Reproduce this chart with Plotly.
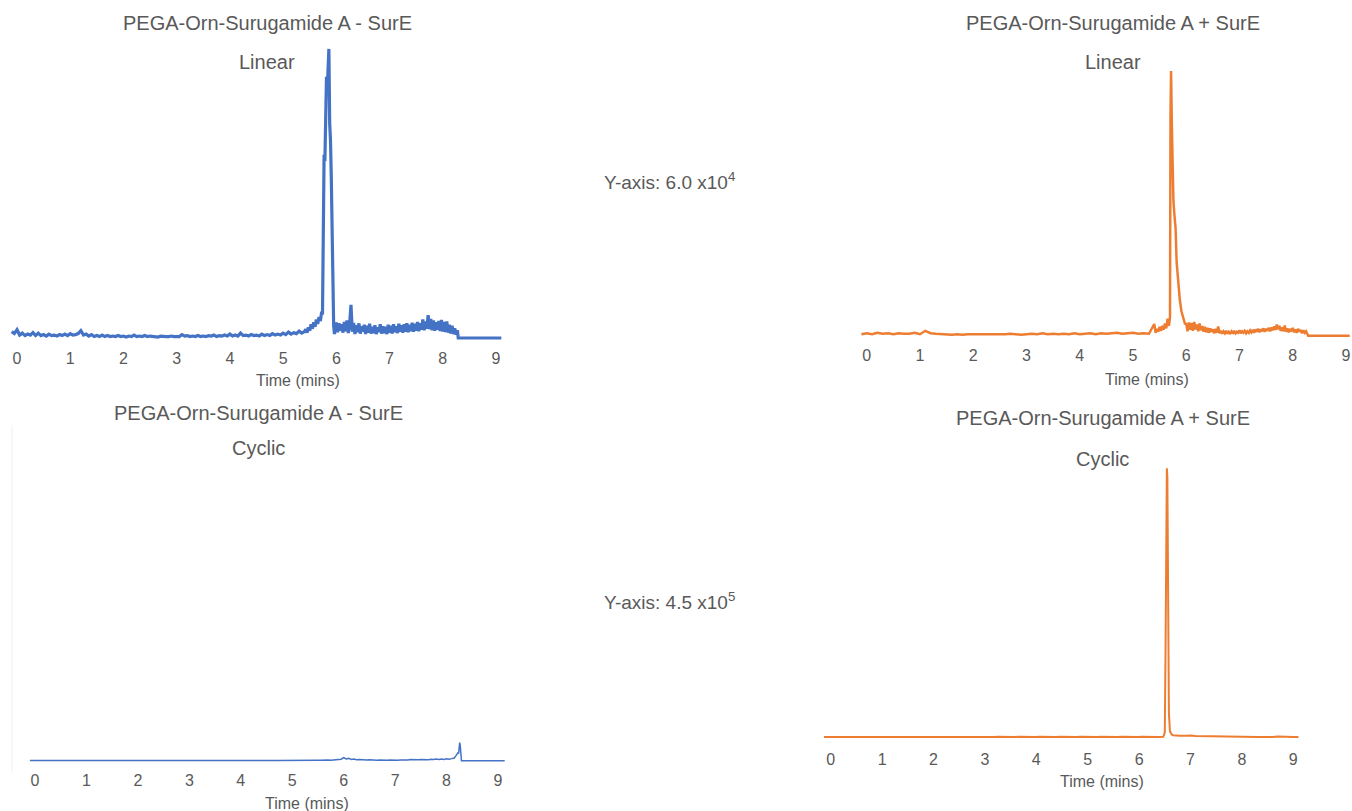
import plotly.graph_objects as go

W, H = 1352, 811
BLUE = "#4472C4"
ORANGE = "#ED7D31"
TEXT = "#595959"
FONT = "Liberation Sans, Arial, Helvetica, sans-serif"

# ---------------- chromatogram data (time in min, intensity in counts) ----------------
# Linear product, no SurE
tl_base_start, tl_base_step = -0.1, 0.05
tl_base = [1300, 900, 1700, 600, 1000, 500, 800, 600, 1100, 500,
           1000, 500, 700, 400, 800, 500, 600, 400, 700, 500,
           800, 500, 900, 600, 700, 900, 1500, 600, 800, 400,
           700, 300, 500, 300, 600, 300, 500, 300, 400, 300,
           500, 300, 400, 200, 400, 300, 600, 300, 400, 300,
           500, 300, 400, 300, 300, 200, 400, 300, 300, 300,
           400, 300, 300, 300, 700, 400, 500, 300, 400, 300,
           500, 300, 400, 300, 500, 400, 600, 300, 500, 400,
           600, 400, 800, 400, 600, 400, 1000, 500, 600, 400,
           700, 500, 600, 400, 800, 500, 700, 500, 900, 600,
           800, 600, 1000, 700, 1200, 800, 1100, 900, 1400, 1000,
           1300]
tl_rise_start, tl_rise_step = 5.425, 0.025
tl_rise = [1800, 1100, 2200, 1500, 2800, 1900, 3200, 2300, 3800, 2900, 4300, 3500, 5400]
tl_peak_time = [5.74, 5.755, 5.77, 5.785, 5.80, 5.815, 5.83, 5.845, 5.86, 5.875,
                5.89, 5.905, 5.92, 5.935, 5.95, 5.965, 5.98]
tl_peak = [4800, 36000, 37500, 36200, 46000, 53500, 51000, 55000, 59200, 44000,
           40500, 33000, 21500, 9500, 2500, 800, 1600]
tl_tail_start, tl_tail_step = 6.0, 0.025
tl_tail = [3200, 1200, 3000, 1500, 2800, 1100, 3300, 1400, 3600, 1000,
           2900, 6800, 1300, 3100, 800, 2600, 1200, 3000, 900, 2400,
           1300, 2700, 800, 2500, 1100, 2900, 900, 2300, 1000, 2600,
           800, 2200, 1200, 2800, 900, 2400, 1000, 2300, 800, 2700,
           1100, 2500, 900, 2800, 1200, 2400, 1000, 2900, 1300, 2600,
           1100, 2800, 1300, 3000, 1200, 2700, 1400, 3100, 1300, 2900,
           1500, 3300, 1400, 3000, 1700, 3800, 1600, 3400, 1900, 4700,
           1800, 3900, 1600, 3600, 1500, 3200, 1700, 3500, 1400, 3700,
           1300, 3300, 1200, 3400, 1100, 2700, 900, 2500, 800, 2000,
           700, 1600]
tl_end_time = [8.29, 9.1]
tl_end = [0, 0]

# Linear product, with SurE
tr_base_start, tr_base_step = -0.1, 0.1
tr_base = [300, 500, 300, 600, 400, 500, 300, 500, 400, 400,
           600, 300, 1000, 500, 400, 300, 300, 200, 300, 200,
           300, 300, 200, 300, 300, 200, 300, 300, 400, 300,
           200, 300, 400, 300, 500, 300, 400, 300, 400, 300,
           500, 300, 400, 500, 300, 500, 400, 500, 600, 400,
           500, 600, 400, 500, 400]
tr_rise_start, tr_rise_step = 5.4, 0.025
tr_rise = [2400, 600, 1400, 800, 1800, 1000, 2000, 1200, 2500, 1500, 3500, 2000]
tr_peak_time = [5.695, 5.705, 5.715, 5.73, 5.745, 5.76, 5.78, 5.80, 5.82, 5.85,
                5.88, 5.91, 5.945, 5.975]
tr_peak = [3800, 45000, 54200, 43000, 32000, 27500, 24500, 22000, 15000, 10500,
           7300, 5000, 3900, 2500]
tr_tail_start, tr_tail_step = 6.0, 0.025
tr_tail = [2400, 900, 2700, 1200, 2600, 1000, 2800, 1300, 2300, 900,
           2500, 1100, 2000, 800, 1800, 700, 1600, 600, 1500, 800,
           1300, 500, 1400, 600, 1900, 500, 1000, 400, 900, 500,
           1000, 400, 800, 500, 900, 400, 1000, 500, 800, 600,
           1100, 500, 900, 600, 1000, 500, 900, 600, 1100, 700,
           1200, 600, 1300, 800, 1400, 700, 1300, 900, 1500, 800,
           1400, 1000, 1600, 900, 1700, 1100, 1900, 1200, 2300, 1300,
           2000, 1000, 1700, 900, 2100, 800, 1500, 700, 1400, 900,
           1600, 700, 1300, 600, 1400, 800, 1200, 500, 1100, 600,
           900, 500]
tr_end_time = [8.29, 9.07]
tr_end = [0, 0]

# Cyclic product, no SurE
bl_base_start, bl_base_step = -0.1, 0.1
bl_base = [400, 600, 300, 500, 300, 400, 500, 300, 400, 300,
           500, 300, 400, 600, 300, 400, 300, 500, 300, 400,
           300, 400, 300, 500, 300, 400, 300, 400, 500, 300,
           400, 300, 500, 300, 400, 300, 500, 300, 400, 300,
           500, 400, 300, 500, 400, 600, 400, 500, 400, 600,
           500, 700, 500, 800, 600, 800]
bl_mid_start, bl_mid_step = 5.5, 0.05
bl_mid = [900, 600, 1100, 800, 1200, 900, 1300, 1000, 1500, 2500,
          5200, 2800, 3800, 2000, 2600, 1600, 2100, 1400, 1800, 1200,
          1500, 1000, 1300, 900, 1200, 800, 1100, 800, 1000, 700,
          1000, 800, 1100, 900, 1200, 1000, 1800, 1300, 2000, 1500,
          2100, 1600, 2200, 1700, 2400, 1800, 2600, 2000, 2800, 2200,
          3200, 2600, 3400, 4500]
bl_peak_time = [8.18, 8.20, 8.22, 8.235, 8.245, 8.255, 8.265, 8.275, 8.29]
bl_peak = [8000, 11000, 13000, 12500, 29500, 30000, 26000, 6000, 0]
bl_end_time = [8.30, 9.13]
bl_end = [0, 0]

# Cyclic product, with SurE
br_base_start, br_base_step = -0.13, 0.1
br_base = [500, 300, 400, 300, 500, 300, 400, 300, 500, 300,
           400, 300, 500, 300, 400, 300, 500, 300, 400, 300,
           500, 300, 400, 300, 500, 400, 900, 400, 800, 400,
           900, 400, 800, 500, 900, 400, 800, 400, 900, 500,
           800, 400, 900, 400, 800, 500, 900, 400, 800, 400,
           900, 500, 800, 400, 900, 400, 800, 500, 900, 400,
           800, 400, 900, 500, 700, 600]
br_peak_time = [6.47, 6.50, 6.515, 6.53, 6.54, 6.55, 6.565, 6.58, 6.60, 6.63, 6.66]
br_peak = [700, 8000, 150000, 400000, 445000, 430000, 250000, 40000, 10000, 5000, 3500]
br_tail_start, br_tail_step = 6.7, 0.1
br_tail = [3000, 2600, 2400, 3000, 2200, 2000, 1900, 1800, 1700, 1600, 1500]
br_end_start, br_end_step = 7.8, 0.1
br_end = [400, 300, 500, 300, 400, 300, 500, 300, 700, 1500, 900, 400, 300, 400]

tick_vals = [0, 1, 2, 3, 4, 5, 6, 7, 8, 9]
tick_text = [str(v) for v in tick_vals]


def sampled(start, step, values):
    """Times of a uniformly sampled segment."""
    return [round(start + i * step, 4) for i in range(len(values))]


def join(*segments):
    t, y = [], []
    for st, sy in segments:
        t += list(st)
        y += list(sy)
    return t, y


traces = {
    "tl": join((sampled(tl_base_start, tl_base_step, tl_base), tl_base),
               (sampled(tl_rise_start, tl_rise_step, tl_rise), tl_rise),
               (tl_peak_time, tl_peak),
               (sampled(tl_tail_start, tl_tail_step, tl_tail), tl_tail),
               (tl_end_time, tl_end)),
    "tr": join((sampled(tr_base_start, tr_base_step, tr_base), tr_base),
               (sampled(tr_rise_start, tr_rise_step, tr_rise), tr_rise),
               (tr_peak_time, tr_peak),
               (sampled(tr_tail_start, tr_tail_step, tr_tail), tr_tail),
               (tr_end_time, tr_end)),
    "bl": join((sampled(bl_base_start, bl_base_step, bl_base), bl_base),
               (sampled(bl_mid_start, bl_mid_step, bl_mid), bl_mid),
               (bl_peak_time, bl_peak),
               (bl_end_time, bl_end)),
    "br": join((sampled(br_base_start, br_base_step, br_base), br_base),
               (br_peak_time, br_peak),
               (sampled(br_tail_start, br_tail_step, br_tail), br_tail),
               (sampled(br_end_start, br_end_step, br_end), br_end)),
}

# ---------------- panel geometry (pixels in the 1352x811 page) ----------------
panels = {
    # key: (x domain px, px of t=0, px of t=9, px of y=0, px of full scale, full scale,
    #       colour, line width, tick label standoff)
    "tl": ((8, 505), 17.0, 496.0, 338.0, 45.0, 6.0e4, BLUE, 3.2, 5),
    "tr": ((856, 1352), 866.7, 1346.0, 335.7, 42.7, 6.0e4, ORANGE, 2.5, 4),
    "bl": ((24, 512), 35.0, 498.0, 760.7, 488.7, 4.5e5, BLUE, 1.5, 4),
    "br": ((818, 1306), 830.7, 1293.3, 737.3, 465.3, 4.5e5, ORANGE, 2.0, 7),
}

fig = go.Figure()
layout_axes = {}
for i, (key, (dom, t0, t9, base, top, full, colour, lw, standoff)) in enumerate(panels.items(), start=1):
    scale = (t9 - t0) / 9.0
    xr = [(dom[0] - t0) / scale, (dom[1] - t0) / scale]
    bottom = base + 4
    per_px = full / (base - top)
    yr = [-(bottom - base) * per_px, full]
    xa = "xaxis" if i == 1 else f"xaxis{i}"
    ya = "yaxis" if i == 1 else f"yaxis{i}"
    layout_axes[xa] = dict(domain=[dom[0] / W, dom[1] / W], range=xr, anchor=f"y{i}" if i > 1 else "y",
                           tickmode="array", tickvals=tick_vals, ticktext=tick_text,
                           showgrid=False, zeroline=False, showline=False, ticks="",
                           ticklabelstandoff=standoff,
                           tickfont=dict(family=FONT, size=16, color=TEXT), fixedrange=True)
    layout_axes[ya] = dict(domain=[1 - bottom / H, 1 - top / H], range=yr, anchor=f"x{i}" if i > 1 else "x",
                           showgrid=False, zeroline=False, showline=False, showticklabels=False,
                           ticks="", fixedrange=True)
    t, y = traces[key]
    fig.add_trace(go.Scatter(x=t, y=y, mode="lines", line=dict(color=colour, width=lw),
                             xaxis=f"x{i}" if i > 1 else "x", yaxis=f"y{i}" if i > 1 else "y",
                             hoverinfo="skip", showlegend=False, cliponaxis=True))


def label(text, px, py, size):
    return dict(text=text, x=px / W, y=1 - py / H, xref="paper", yref="paper",
                xanchor="center", yanchor="middle", showarrow=False,
                font=dict(family=FONT, size=size, color=TEXT))


annotations = [
    label("PEGA-Orn-Surugamide A - SurE", 267.5, 23, 20),
    label("Linear", 267, 62, 20),
    label("Time (mins)", 298, 380, 16),
    label("PEGA-Orn-Surugamide A + SurE", 1113, 23, 20),
    label("Linear", 1113, 62, 20),
    label("Time (mins)", 1147, 379, 16),
    label("PEGA-Orn-Surugamide A - SurE", 258, 413, 20),
    label("Cyclic", 258, 448, 20),
    label("Time (mins)", 307, 803, 16),
    label("PEGA-Orn-Surugamide A + SurE", 1102.5, 418, 20),
    label("Cyclic", 1102, 459, 20),
    label("Time (mins)", 1102, 781, 16),
    label("Y-axis: 6.0 x10<sup>4</sup>", 669, 181, 19),
    label("Y-axis: 4.5 x10<sup>5</sup>", 669, 601, 19),
]

shapes = [dict(type="line", xref="paper", yref="paper", x0=12 / W, x1=12 / W,
               y0=1 - 773 / H, y1=1 - 425 / H, line=dict(color="#f0f0f0", width=1))]

fig.update_layout(width=W, height=H, margin=dict(l=0, r=0, t=0, b=0),
                  paper_bgcolor="white", plot_bgcolor="white",
                  annotations=annotations, shapes=shapes, **layout_axes)

fig.write_html("out.html", config={"displayModeBar": False})
